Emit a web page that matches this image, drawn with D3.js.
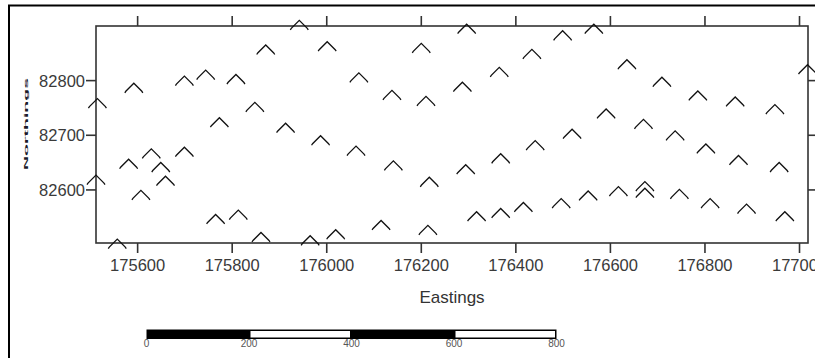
<!DOCTYPE html>
<html>
<head>
<meta charset="utf-8">
<script src="https://cdn.jsdelivr.net/npm/d3@7"></script>
<style>
  html, body { margin: 0; padding: 0; background: #fff; overflow: hidden; }
  svg { display: block; }
  .tick-label { font-family: 'Liberation Sans', Arial, sans-serif; font-size: 16.5px; fill: #3a3a3a; }
</style>
</head>
<body>
<div id="chart"></div>
<script>
// sample locations (Eastings / Northings)
var eastings = [
  175872, 175700, 175745, 175809, 175593, 175516, 175849, 175774, 175630, 175700,
  175582, 175650, 175513, 175660, 175608, 175766, 175814, 175862, 175558, 175943,
  176002, 176201, 176069, 176139, 176211, 175914, 175988, 176063, 176142, 176218,
  176116, 176215, 175966, 176020, 176297, 176500, 176566, 176435, 176366, 176636,
  176288, 176592, 176520, 176442, 176369, 176295, 176318, 176369, 176417, 176497,
  176554, 176618, 176710, 176786, 176865, 176949, 177018, 176671, 176738, 176803,
  176872, 176958, 176674, 176674, 176747, 176812, 176889, 176970
];
var northings = [
  82856, 82799, 82810, 82802, 82786, 82758, 82751, 82723, 82666, 82669,
  82647, 82641, 82618, 82616, 82590, 82546, 82554, 82513, 82501, 82901,
  82862, 82859, 82805, 82773, 82762, 82713, 82690, 82671, 82644, 82614,
  82535, 82526, 82507, 82518, 82894, 82882, 82894, 82848, 82815, 82829,
  82788, 82739, 82702, 82681, 82657, 82637, 82551, 82557, 82568, 82575,
  82589, 82597, 82797, 82772, 82761, 82747, 82820, 82720, 82699, 82675,
  82654, 82641, 82606, 82594, 82592, 82575, 82565, 82551
];
var xDomain = [175513, 177019];
var yDomain = [82502, 82899];
var xTicks = [175600, 175800, 176000, 176200, 176400, 176600, 176800, 177000];
var yTicks = [82600, 82700, 82800];
var scaleBarStops = [0, 200, 400, 600, 800];

var width = 815, height = 358;
var plot = { left: 96, right: 808, top: 26, bottom: 243 };
var axisColor = '#333';

var svg = d3.select('#chart').append('svg')
  .attr('width', width)
  .attr('height', height);

// outer frame (only top and left edges show in the window)
svg.append('line')
  .attr('x1', 8).attr('x2', width).attr('y1', 5.5).attr('y2', 5.5)
  .attr('stroke', '#000').attr('stroke-width', 2);
svg.append('line')
  .attr('x1', 9).attr('x2', 9).attr('y1', 5).attr('y2', height)
  .attr('stroke', '#000').attr('stroke-width', 2);

var x = d3.scaleLinear().domain(xDomain).range([plot.left, plot.right]);
var y = d3.scaleLinear().domain(yDomain).range([plot.bottom, plot.top]);

function styleAxis(g) {
  g.select('.domain').remove();
  g.selectAll('.tick line').attr('stroke', axisColor).attr('stroke-width', 1.6);
}

svg.append('g')
  .attr('transform', 'translate(0,' + plot.bottom + ')')
  .call(d3.axisBottom(x).tickValues(xTicks).tickSize(10).tickSizeOuter(0).tickPadding(5).tickFormat(d3.format('d')))
  .call(styleAxis)
  .call(function (g) { g.selectAll('.tick text').attr('class', 'tick-label').attr('dy', '0.78em'); });

svg.append('g')
  .attr('transform', 'translate(0,' + plot.top + ')')
  .call(d3.axisTop(x).tickValues(xTicks).tickSize(10).tickSizeOuter(0).tickFormat(''))
  .call(styleAxis);

svg.append('g')
  .attr('transform', 'translate(' + plot.left + ',0)')
  .call(d3.axisLeft(y).tickValues(yTicks).tickSize(10).tickSizeOuter(0).tickPadding(1).tickFormat(d3.format('d')))
  .call(styleAxis)
  .call(function (g) { g.selectAll('.tick text').attr('class', 'tick-label').attr('dy', '0.36em'); });

svg.append('g')
  .attr('transform', 'translate(' + plot.right + ',0)')
  .call(d3.axisRight(y).tickValues(yTicks).tickSize(10).tickSizeOuter(0).tickFormat(''))
  .call(styleAxis);

svg.append('rect')
  .attr('x', plot.left).attr('y', plot.top)
  .attr('width', plot.right - plot.left).attr('height', plot.bottom - plot.top)
  .attr('fill', 'none').attr('stroke', axisColor).attr('stroke-width', 1.6);

// chevron markers
var chevron = 'M-9,5L-8,3.5L0,-4.5L8,3.5L9,5';
svg.append('g').selectAll('path')
  .data(d3.range(eastings.length))
  .join('path')
  .attr('transform', function (i) { return 'translate(' + x(eastings[i]) + ',' + y(northings[i]) + ')'; })
  .attr('d', chevron)
  .attr('fill', 'none')
  .attr('stroke', '#111')
  .attr('stroke-width', 1.3);

// axis titles
svg.append('text')
  .attr('x', 452).attr('y', 303)
  .attr('text-anchor', 'middle')
  .style('font-family', 'Liberation Sans, Arial, sans-serif')
  .style('font-size', '17px')
  .style('fill', '#333')
  .text('Eastings');

// the y title is squashed into a thin vertical strip in the original export
svg.append('text')
  .attr('transform', 'translate(26,124) rotate(-90) scale(1.3,0.3)')
  .attr('text-anchor', 'middle')
  .attr('dy', '0.35em')
  .style('font-family', 'Liberation Sans, Arial, sans-serif')
  .style('font-size', '15px')
  .style('font-weight', 'bold')
  .style('fill', '#1a1a2a')
  .text('Northings');

// scale bar
var sb = d3.scaleLinear().domain([0, 800]).range([146.5, 556.5]);
var sbTop = 329.5, sbH = 9.5;
svg.append('rect')
  .attr('x', sb(0)).attr('y', sbTop)
  .attr('width', sb(800) - sb(0)).attr('height', sbH)
  .attr('fill', '#000');
svg.append('g').selectAll('rect')
  .data(d3.pairs(scaleBarStops).filter(function (p, i) { return i % 2 === 1; }))
  .join('rect')
  .attr('x', function (p) { return sb(p[0]) + 1.5; })
  .attr('y', sbTop + 1.5)
  .attr('width', function (p) { return sb(p[1]) - sb(p[0]) - 3; })
  .attr('height', sbH - 3)
  .attr('fill', '#fff');
svg.append('g').selectAll('text')
  .data(scaleBarStops)
  .join('text')
  .attr('x', function (d) { return sb(d); })
  .attr('y', 347)
  .attr('text-anchor', 'middle')
  .style('font-family', 'Liberation Sans Narrow, Arial Narrow, sans-serif')
  .style('font-size', '10px')
  .style('fill', '#555')
  .text(function (d) { return d; });
</script>
</body>
</html>
